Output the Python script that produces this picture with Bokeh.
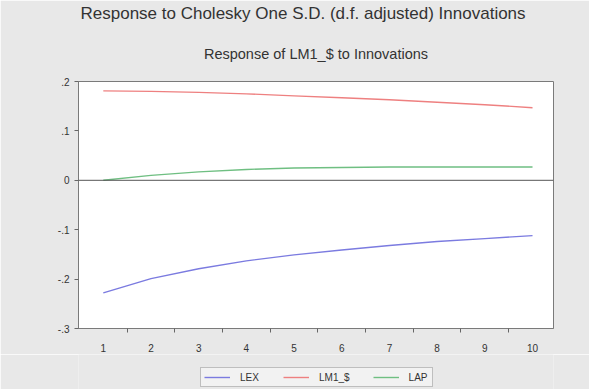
from bokeh.plotting import figure
from bokeh.layouts import column
from bokeh.models import (Range1d, FixedTicker, Span, Legend, LegendItem, Title)
from bokeh.embed import file_html
from bokeh.resources import INLINE

periods = [1, 2, 3, 4, 5, 6, 7, 8, 9, 10]
lex = [-0.228, -0.199, -0.179, -0.163, -0.151, -0.141, -0.132, -0.124, -0.118, -0.112]
lm1 = [0.181, 0.180, 0.178, 0.175, 0.171, 0.167, 0.163, 0.158, 0.153, 0.147]
lap = [0.000, 0.010, 0.017, 0.022, 0.025, 0.026, 0.027, 0.027, 0.027, 0.027]
y_ticks = [-0.3, -0.2, -0.1, 0.0, 0.1, 0.2]
y_tick_labels = ["-.3", "-.2", "-.1", "0", ".1", ".2"]
series_names = ["LEX", "LM1_$", "LAP"]

FONT = "Liberation Sans"
TXT = "#333333"
BG = "#e8e8e8"
colors = ["#7b7be0", "#ee8080", "#6fbf82"]

p = figure(width=589, height=354, output_backend="svg", toolbar_location=None,
           x_range=Range1d(0.48, 10.44), y_range=Range1d(-0.3, 0.2),
           min_border_left=78, min_border_right=36, min_border_top=80, min_border_bottom=26)
p.border_fill_color = BG
p.background_fill_color = "white"
p.outline_line_color = "#7a7a7a"
p.outline_line_width = 1
p.xgrid.visible = False
p.ygrid.visible = False

# x axis: labels at integers, ticks at boundaries
p.xaxis.ticker = FixedTicker(ticks=periods, minor_ticks=[i + 0.5 for i in periods[:-1]])
p.xaxis.major_tick_line_color = None
p.xaxis.minor_tick_line_color = "#666666"
p.xaxis.minor_tick_out = 4
p.xaxis.minor_tick_in = 0
p.xaxis.axis_line_color = "#7a7a7a"
p.xaxis.major_label_standoff = 9
p.xaxis.major_label_text_font = FONT
p.xaxis.major_label_text_font_size = "10px"
p.xaxis.major_label_text_color = TXT

p.yaxis.ticker = FixedTicker(ticks=y_ticks, minor_ticks=[])
p.yaxis.major_label_overrides = {t: l for t, l in zip(y_ticks, y_tick_labels)}
p.yaxis.major_tick_out = 4
p.yaxis.major_tick_in = 0
p.yaxis.major_tick_line_color = "#666666"
p.yaxis.axis_line_color = "#7a7a7a"
p.yaxis.major_label_standoff = 5
p.yaxis.major_label_text_font = FONT
p.yaxis.major_label_text_font_size = "10px"
p.yaxis.major_label_text_color = TXT

p.add_layout(Span(location=0, dimension="width", line_color="#555555", line_width=1))

series = [lex, lm1, lap]
for vals, c in zip(series, colors):
    p.line(periods, vals, line_color=c, line_width=1.4)

sub = Title(text="Response of LM1_$ to Innovations", align="center",
            text_font=FONT, text_font_size="14.5px", text_font_style="normal",
            text_color=TXT, standoff=40)
main = Title(text="Response to Cholesky One S.D. (d.f. adjusted) Innovations", align="left",
             offset=2, text_font=FONT, text_font_size="17px", text_font_style="normal",
             text_color=TXT, standoff=2)
p.add_layout(sub, "above")
p.add_layout(main, "above")

# legend strip below the chart (its lines lie outside its visible range)
lg = figure(width=589, height=35, output_backend="svg", toolbar_location=None,
            x_range=Range1d(-3, -2), y_range=Range1d(5, 6),
            min_border_left=0, min_border_right=0, min_border_top=0, min_border_bottom=0)
lg.axis.visible = False
lg.grid.visible = False
lg.outline_line_color = None
lg.border_fill_color = BG
lg.background_fill_color = BG
rs = [lg.line(periods, vals, line_color=c, line_width=1.4) for vals, c in zip(series, colors)]
legend = Legend(items=[LegendItem(label=n, renderers=[r]) for n, r in zip(series_names, rs)],
                orientation="horizontal", location=(122, 2))
legend.label_text_font = FONT
legend.label_text_font_size = "10px"
legend.label_text_color = TXT
legend.glyph_width = 26
legend.glyph_height = 12
legend.label_height = 12
legend.label_standoff = 10
legend.spacing = 23
legend.padding = 3
legend.margin = 0
legend.border_line_color = "#8a8a8a"
legend.background_fill_color = "#f2f2f2"
legend.background_fill_alpha = 1
lg.add_layout(legend)

layout = column(p, lg, spacing=0)
open("out.html", "w").write(file_html(layout, INLINE))
